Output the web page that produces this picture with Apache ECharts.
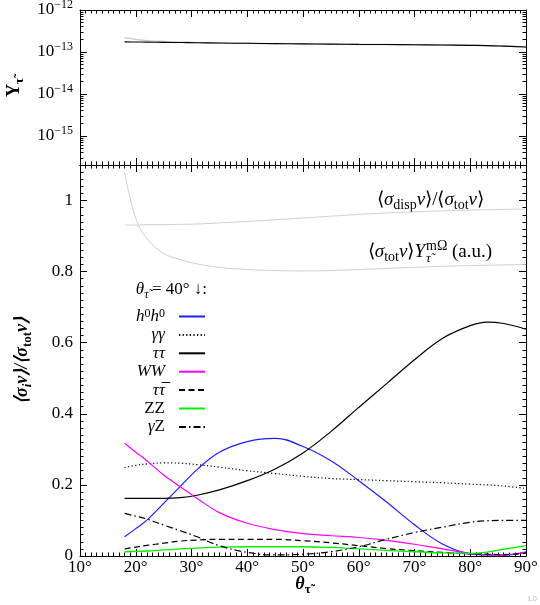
<!DOCTYPE html>
<html>
<head>
<meta charset="utf-8">
<script src="https://cdn.jsdelivr.net/npm/echarts@6/dist/echarts.min.js"></script>
<style>
  html, body { margin: 0; padding: 0; background: #fff; }
  .layer { width: 540px; height: 605px; position: absolute; left: 0; top: 0; }
  #frame { z-index: 1; }
  #chart { z-index: 2; }
</style>
</head>
<body>
<div id="frame" class="layer"></div>
<div id="chart" class="layer"></div>
<script>
// stau mixing angle (degrees)
const theta = [18, 20, 22, 25, 28, 31, 35, 40, 45, 50, 55, 60, 65, 70, 75, 80, 83, 86, 90];

// top panel: yield
const yieldTot = [1.74e-13, 1.73e-13, 1.72e-13, 1.70e-13, 1.68e-13, 1.66e-13, 1.635e-13, 1.61e-13, 1.585e-13, 1.56e-13,
  1.54e-13, 1.52e-13, 1.505e-13, 1.49e-13, 1.47e-13, 1.44e-13, 1.42e-13, 1.38e-13, 1.32e-13];
const yieldMO = [2.2e-13, 2.0e-13, 1.87e-13, 1.78e-13, 1.72e-13, 1.67e-13, 1.635e-13, 1.61e-13, 1.585e-13, 1.56e-13,
  1.54e-13, 1.52e-13, 1.505e-13, 1.49e-13, 1.47e-13, 1.44e-13, 1.42e-13, 1.38e-13, 1.32e-13];

// bottom panel: channel fractions
const h0h0  = [0.054, 0.077, 0.101, 0.148, 0.196, 0.243, 0.292, 0.322, 0.331, 0.308, 0.268, 0.212, 0.152, 0.088, 0.034, 0.006, 0.003, 0.003, 0.010];
const gaga  = [0.249, 0.255, 0.259, 0.262, 0.261, 0.257, 0.250, 0.240, 0.232, 0.224, 0.218, 0.215, 0.212, 0.209, 0.206, 0.202, 0.200, 0.197, 0.190];
const tautau = [0.162, 0.162, 0.162, 0.162, 0.164, 0.171, 0.186, 0.212, 0.245, 0.290, 0.350, 0.418, 0.485, 0.552, 0.612, 0.648, 0.658, 0.654, 0.638];
const WW    = [0.317, 0.292, 0.268, 0.228, 0.195, 0.162, 0.122, 0.092, 0.074, 0.063, 0.057, 0.052, 0.044, 0.033, 0.020, 0.0075, 0.003, 0.002, 0.012];
const taubar = [0.020, 0.025, 0.030, 0.036, 0.042, 0.045, 0.047, 0.047, 0.047, 0.043, 0.037, 0.029, 0.021, 0.015, 0.010, 0.006, 0.005, 0.004, 0.008];
const ZZ    = [0.012, 0.013, 0.014, 0.017, 0.020, 0.022, 0.025, 0.026, 0.026, 0.026, 0.024, 0.020, 0.016, 0.012, 0.009, 0.0075, 0.011, 0.019, 0.029];
const gaZ   = [0.120, 0.112, 0.104, 0.087, 0.071, 0.054, 0.029, 0.010, 0.003, 0.005, 0.012, 0.026, 0.047, 0.066, 0.081, 0.095, 0.099, 0.100, 0.100];
const dispRatio = [0.931, 0.931, 0.932, 0.932, 0.933, 0.934, 0.937, 0.941, 0.946, 0.951, 0.956, 0.961, 0.965, 0.968, 0.971, 0.973, 0.974, 0.975, 0.976];
const sigYield = [1.08, 0.95, 0.893, 0.851, 0.834, 0.822, 0.812, 0.806, 0.803, 0.802, 0.803, 0.806, 0.809, 0.812, 0.815, 0.817, 0.818, 0.819, 0.820];

// ticks
const topExp = [-15, -14, -13, -12];
const botTicks = [0, 0.2, 0.4, 0.6, 0.8, 1];

const F = 'Liberation Serif';
const topMin = -15.69, topMax = -12;

// minor ticks of the log axis (log10 space), one list per decade
const topDecades = [];
for (let n = -16; n <= -13; n++) {
  const list = [];
  for (let k = 2; k <= 9; k++) {
    const v = n + Math.log10(k);
    if (v > topMin && v < topMax) list.push(v);
  }
  topDecades.push(list);
}
const topMinor = [].concat.apply([], topDecades);
const botMinor = [];
for (let k = 1; k < 55; k++) {
  if (k % 10) botMinor.push(Math.round(k * 2) / 100);
}

function mathRich(size, lineH) {
  const s = Math.round(size * 0.72);
  const lh = lineH || Math.round(size * 1.3);
  return {
    r: { fontFamily: F, fontSize: size, lineHeight: lh },
    i: { fontFamily: F, fontSize: size, fontStyle: 'italic', lineHeight: lh },
    b: { fontFamily: F, fontSize: size, fontWeight: 'bold', lineHeight: lh },
    bi: { fontFamily: F, fontSize: size, fontWeight: 'bold', fontStyle: 'italic', lineHeight: lh },
    sub: { fontFamily: F, fontSize: s, verticalAlign: 'bottom', lineHeight: s },
    subi: { fontFamily: F, fontSize: s, fontStyle: 'italic', verticalAlign: 'bottom', lineHeight: s },
    bsub: { fontFamily: F, fontSize: s, fontWeight: 'bold', verticalAlign: 'bottom', lineHeight: s },
    bsubi: { fontFamily: F, fontSize: s, fontWeight: 'bold', fontStyle: 'italic', verticalAlign: 'bottom', lineHeight: s },
    sup: { fontFamily: F, fontSize: s, verticalAlign: 'top', lineHeight: s },
    e: { width: 9 }
  };
}

const tauT = 'τ\u0303';
const supDigits = { '0': '⁰', '1': '¹', '2': '²', '3': '³', '4': '⁴', '5': '⁵', '6': '⁶', '7': '⁷', '8': '⁸', '9': '⁹' };
const plainPow = v => '10⁻' + String(-v).split('').map(c => supDigits[c]).join('');
const legendLabels = {
  h0h0: '{i|h}{sup|0}{i|h}{sup|0}',
  gg: '{i|γγ}',
  tt: '{i|ττ}',
  WW: '{i|WW}',
  ttbar: '{i|τ}{i|τ\u0305}',
  ZZ: '{r|ZZ}',
  gZ: '{i|γ}{r|Z}'
};

const black = '#000';
const tickOf = (len, custom) => {
  const t = { show: true, inside: true, length: len };
  if (custom) t.customValues = custom;
  return t;
};
const lineOf = show => ({ show: show, onZero: false, lineStyle: { color: black, width: 1 } });

// level: 0 full, 1 split minor lists, 2 + outer auto, 3 plain text titles, 4 bare labels
function frameOption(level) {
  const fancy = level <= 2;
  const named = level <= 3;
  const split = level >= 1;
  const lblFont = level <= 3 ? { fontFamily: F, fontSize: 17, color: black } : { color: black };

  function xAx(grid, pos, labels) {
    const a = {
      type: 'value', gridIndex: grid, position: pos, min: 10, max: 90, interval: 10,
      axisLine: lineOf(true), axisTick: tickOf(7), minorTick: { show: true, splitNumber: 10, length: 3.5 },
      splitLine: { show: false },
      axisLabel: Object.assign({ show: labels, margin: 3, formatter: v => v + '°' }, lblFont)
    };
    if (labels && named) {
      a.nameLocation = 'middle';
      a.nameGap = 17;
      a.nameMoveOverlap = false;
      if (fancy) {
        a.name = '{bi|θ}{bsub|' + tauT + '}';
        a.nameTextStyle = { rich: mathRich(18) };
      } else {
        a.name = 'θ' + tauT;
        a.nameTextStyle = { fontFamily: F, fontSize: 18, fontWeight: 'bold', fontStyle: 'italic' };
      }
    }
    return a;
  }
  function yAx(grid, pos, major, custom, extra) {
    return Object.assign({
      type: 'value', gridIndex: grid, position: pos, splitLine: { show: false },
      min: grid === 0 ? topMin : 0, max: grid === 0 ? topMax : 1.1,
      axisLine: lineOf(major),
      axisTick: tickOf(major ? 7 : 3.5, custom),
      axisLabel: { show: false }
    }, extra || {});
  }
  const topName = named ? (fancy
    ? { name: '{b|Y}{bsub|' + tauT + '}', nameTextStyle: { rich: mathRich(18) } }
    : { name: 'Y' + tauT, nameTextStyle: { fontFamily: F, fontSize: 18, fontWeight: 'bold' } }) : {};
  const botName = named ? (fancy
    ? { name: '{bi|⟨σ}{bsubi|i}{bi|v⟩/⟨σ}{bsub|tot}{bi|v⟩}', nameTextStyle: { rich: mathRich(18) } }
    : { name: '⟨σᵢv⟩/⟨σₜₒₜv⟩', nameTextStyle: { fontFamily: F, fontSize: 18, fontWeight: 'bold', fontStyle: 'italic' } }) : {};

  const ys = [
    yAx(0, 'left', true, topExp, Object.assign({
      axisLabel: Object.assign({ show: true, customValues: topExp, margin: 7 }, lblFont,
        fancy ? { formatter: v => '{r|10}{sup|−' + (-v) + '}', rich: mathRich(17) } : { formatter: plainPow }),
      nameLocation: 'middle', nameRotate: 90, nameGap: 42
    }, topName)),
    yAx(0, 'right', true, topExp),
    yAx(1, 'left', true, botTicks, Object.assign({
      axisLabel: Object.assign({ show: true, customValues: botTicks, margin: 7 }, lblFont),
      nameLocation: 'middle', nameRotate: 90, nameGap: 46
    }, botName)),
    yAx(1, 'right', true, botTicks)
  ];
  if (split) {
    topDecades.forEach(list => { ys.push(yAx(0, 'left', false, list), yAx(0, 'right', false, list)); });
    ys.push(yAx(1, 'left', false, null, { interval: 0.02 }), yAx(1, 'right', false, null, { interval: 0.02 }));
  } else {
    ys.push(yAx(0, 'left', false, topMinor), yAx(0, 'right', false, topMinor),
      yAx(1, 'left', false, botMinor), yAx(1, 'right', false, botMinor));
  }
  const grid = (top, h) => {
    const g = { left: 80, top: top, width: 446, height: h };
    if (level !== 2) { g.outerBoundsMode = 'none'; g.containLabel = false; }
    return g;
  };
  return {
    animation: false,
    backgroundColor: '#fff',
    grid: [grid(10, 155), grid(165, 391)],
    xAxis: [xAx(0, 'bottom', false), xAx(0, 'top', false), xAx(1, 'bottom', true), xAx(1, 'top', false)],
    yAxis: ys
  };
}

// layer 1: frames, ticks, tick labels, axis titles
const frame = echarts.init(document.getElementById('frame'));

function ticksOk() {
  const cv = document.querySelector('#frame canvas');
  if (!cv) return false;
  const ctx = cv.getContext('2d');
  const dark = (x, y, w, h) => {
    const d = ctx.getImageData(x, y, w, h).data;
    for (let i = 0; i < d.length; i += 4) if (d[i + 3] > 0 && d[i] < 170) return true;
    return false;
  };
  // major tick at 20 deg on the bottom axis, major tick at 0.6 on the left axis
  return dark(133, 549, 6, 5) && dark(82, 340, 5, 6);
}

let usedLevel = -1;
function drawFrame(start) {
  for (let level = start; level <= 4; level++) {
    frame.setOption(frameOption(level), true);
    frame.getZr().flush();
    usedLevel = level;
    if (ticksOk()) return level;
  }
  return usedLevel;
}
drawFrame(0);

// layer 2: curves, legend, annotations on the same scales
const hiddenX = g => ({ type: 'value', gridIndex: g, min: 10, max: 90, show: false });
const hiddenY = g => ({ type: 'value', gridIndex: g, min: g === 0 ? topMin : 0, max: g === 0 ? topMax : 1.1, show: false });

const pts = vals => theta.map((t, i) => [t, vals[i]]);
const logPts = vals => theta.map((t, i) => [t, Math.log10(vals[i])]);

function curve(name, vals, color, type, width, grid) {
  return {
    name: name, type: 'line', smooth: 0.4, symbol: 'none',
    xAxisIndex: grid, yAxisIndex: grid,
    data: grid === 0 ? logPts(vals) : pts(vals),
    lineStyle: { color: color, width: width, type: type },
    itemStyle: { color: color }
  };
}

const chart = echarts.init(document.getElementById('chart'));
chart.setOption({
  animation: false,
  backgroundColor: 'transparent',
  grid: [
    { left: 80, top: 10, width: 446, height: 155, outerBoundsMode: 'none', containLabel: false },
    { left: 80, top: 165, width: 446, height: 391, outerBoundsMode: 'none', containLabel: false }
  ],
  xAxis: [hiddenX(0), hiddenX(1)],
  yAxis: [hiddenY(0), hiddenY(1)],
  series: [
    curve('YmO', yieldMO, '#c8c8c8', 'solid', 1.4, 0),
    curve('Ytot', yieldTot, black, 'solid', 1.1, 0),
    curve('disp', dispRatio, '#cfcfcf', 'solid', 1, 1),
    curve('sigY', sigYield, '#cfcfcf', 'solid', 1, 1),
    curve('h0h0', h0h0, '#1c1cff', 'solid', 1.2, 1),
    curve('gg', gaga, black, [1.2, 2.4], 1.2, 1),
    curve('tt', tautau, black, 'solid', 1.2, 1),
    curve('WW', WW, '#ff00ff', 'solid', 1.2, 1),
    curve('ttbar', taubar, black, [6, 3.5], 1.2, 1),
    curve('ZZ', ZZ, '#00f000', 'solid', 1.3, 1),
    curve('gZ', gaZ, black, [7, 3, 1.5, 3], 1.2, 1)
  ],
  legend: {
    data: ['h0h0', 'gg', 'tt', 'WW', 'ttbar', 'ZZ', 'gZ'],
    orient: 'vertical', align: 'right', right: 334, top: 308, padding: 0,
    itemWidth: 26, itemHeight: 10, itemGap: 1.4, selectedMode: false,
    itemStyle: { opacity: 0, borderWidth: 0 },
    formatter: n => legendLabels[n] + '{e| }',
    textStyle: { fontFamily: F, fontSize: 17, lineHeight: 17, color: black, rich: mathRich(17, 17) }
  },
  graphic: [
    { type: 'text', x: 207, y: 290, silent: true,
      style: { text: '{i|θ}{subi|' + tauT + '}{r|\u2009= 40° ↓:}', align: 'right', verticalAlign: 'middle',
        fill: black, rich: mathRich(17) } },
    { type: 'text', x: 484, y: 200, silent: true,
      style: { text: '{r|⟨}{i|σ}{sub|disp}{i|v}{r|⟩/⟨}{i|σ}{sub|tot}{i|v}{r|⟩}', align: 'right', verticalAlign: 'middle',
        fill: black, rich: mathRich(19) } },
    { type: 'text', x: 425, y: 252, silent: true,
      style: { text: '{r|⟨}{i|σ}{sub|tot}{i|v}{r|⟩}{i|Y}', align: 'right', verticalAlign: 'middle',
        fill: black, rich: mathRich(19) } },
    { type: 'text', x: 426, y: 252, silent: true,
      style: { text: '{sup|mΩ}{r| (a.u.)}', align: 'left', verticalAlign: 'middle',
        fill: black, rich: mathRich(19) } },
    { type: 'text', x: 426, y: 259, silent: true,
      style: { text: tauT, fontFamily: F, fontStyle: 'italic', fontSize: 13, align: 'left', verticalAlign: 'middle', fill: black } },
    { type: 'text', id: 'lvl', x: 537, y: 603, silent: true,
      style: { text: 'L' + usedLevel, fontSize: 8, fill: '#bbb', align: 'right', verticalAlign: 'bottom' } }
  ]
});

// re-check once the page has settled
setTimeout(() => {
  if (!ticksOk()) {
    drawFrame(Math.min(usedLevel + 1, 4));
    chart.setOption({ graphic: [{ id: 'lvl', style: { text: 'L' + usedLevel + '*' } }] });
  }
}, 300);
</script>
</body>
</html>
